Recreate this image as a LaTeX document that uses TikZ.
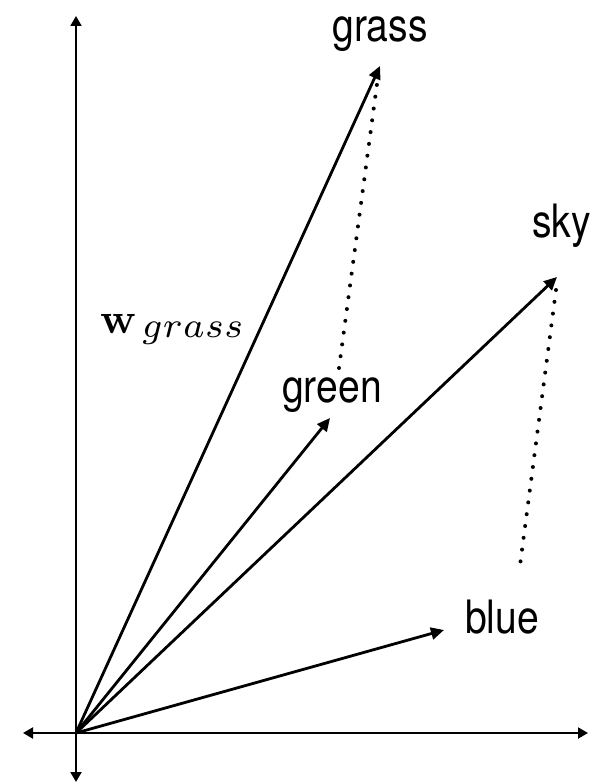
\documentclass[tikz,border=0pt]{standalone}
\usepackage[no-math]{fontspec}
\setmainfont{TeX Gyre Heros}[FakeStretch=0.85]
\usetikzlibrary{arrows.meta}

\begin{document}
\begin{tikzpicture}[x=1pt, y=-1pt, every node/.style={inner sep=0pt},
      ax/.style={line width=2pt,
                 {Triangle[length=10pt,width=11pt]}-{Triangle[length=10pt,width=11pt]}},
      vec/.style={line width=2.8pt, -{Triangle[length=13pt,width=12pt]}},
      dotline/.style={line width=4pt, line cap=round, dash pattern=on 0pt off 11.9pt},
      lbl/.style={font=\fontsize{46}{52}\selectfont}]
    \useasboundingbox (0,0) rectangle (589,783);
    % axes
    \coordinate (O)  at (76,733);
    \coordinate (xl) at (23,733);
    \coordinate (xr) at (588,733);
    \coordinate (yb) at (76,782);
    \coordinate (yt) at (76,16);
    \draw[ax] (xl) -- (xr);
    \draw[ax] (yb) -- (yt);
    % word vectors
    \coordinate (grass) at (380,66);
    \coordinate (green) at (330,418);
    \coordinate (sky)   at (557,277);
    \coordinate (blue)  at (444,630);
    \foreach \w in {grass, green, sky, blue}
      \draw[vec] (O) -- (\w);
    % offsets
    \coordinate (g0) at (339,368);
    \coordinate (g1) at (377,84);
    \coordinate (s0) at (556,290);
    \coordinate (s1) at (519,573);
    \draw[dotline] (g0) -- (g1);
    \draw[dotline] (s0) -- (s1);
    % labels
    \node[lbl, anchor=base]      (lgrass) at (380,42)  {grass};
    \node[lbl, anchor=base west] (lsky)   at (532,238) {sky};
    \node[lbl, anchor=base]      (lgreen) at (332,402) {green};
    \node[lbl, anchor=base west] (lblue)  at (465,633) {blue};
    \node[anchor=base west] (wlbl) at (100,333)
      {\scalebox{4.3}{$\mathbf{w}$}\hspace{5pt}\raisebox{-4pt}{\scalebox{5.1}{$\scriptstyle grass$}}};
\end{tikzpicture}
\end{document}
